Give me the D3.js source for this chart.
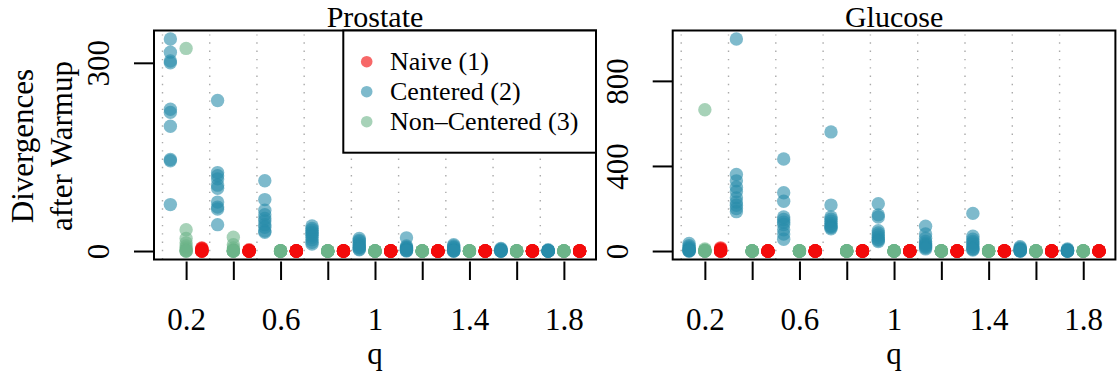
<!DOCTYPE html>
<html>
<head>
<meta charset="utf-8">
<script src="https://cdn.jsdelivr.net/npm/d3@7"></script>
<style>
  body { margin: 0; background: #fff; }
  svg { display: block; font-family: "Liberation Serif", "DejaVu Serif", "Times New Roman", serif; }
</style>
</head>
<body>
<svg id="chart" width="1119" height="377"></svg>
<script>
const FONT = '"Liberation Serif", "DejaVu Serif", "Times New Roman", serif'

// q values (one group of points per q)
const Q_VALUES = [0.2, 0.4, 0.6, 0.8, 1, 1.2, 1.4, 1.6, 1.8]
const X_TICK_LABELS = ['0.2', '', '0.6', '', '1', '', '1.4', '', '1.8']
const GRID_Q = [0.1, 0.3, 0.5, 0.7, 0.9, 1.1, 1.3, 1.5, 1.7]

const METHODS = ['Naive (1)', 'Centered (2)', 'Non\u2013Centered (3)']
const METHOD_COLORS = ['rgba(242,12,12,0.62)', 'rgba(40,140,170,0.6)', 'rgba(108,180,136,0.6)']

const PROSTATE_TICKS = [0, 300]
const GLUCOSE_TICKS = [0, 400, 800]

// divergences after warmup, 10 runs per q value
const prostateNaive = [
  [5, 4, 3, 2, 1, 0, 0, 0, 0, 0],
  [2, 0, 0, 0, 0, 0, 0, 0, 0, 0],
  [0, 0, 0, 0, 0, 0, 0, 0, 0, 0],
  [0, 0, 0, 0, 0, 0, 0, 0, 0, 0],
  [0, 0, 0, 0, 0, 0, 0, 0, 0, 0],
  [0, 0, 0, 0, 0, 0, 0, 0, 0, 0],
  [0, 0, 0, 0, 0, 0, 0, 0, 0, 0],
  [0, 0, 0, 0, 0, 0, 0, 0, 0, 0],
  [0, 0, 0, 0, 0, 0, 0, 0, 0, 0]
]
const prostateCentered = [
  [338, 317, 303, 300, 226, 221, 199, 146, 144, 74],
  [240, 125, 120, 115, 105, 100, 78, 70, 67, 42],
  [112, 82, 65, 58, 52, 48, 42, 38, 32, 30],
  [40, 36, 33, 30, 28, 25, 22, 18, 14, 11],
  [20, 17, 15, 12, 10, 8, 6, 5, 3, 2],
  [21, 8, 6, 5, 4, 3, 2, 1, 1, 0],
  [10, 8, 6, 5, 3, 2, 1, 0, 0, 0],
  [4, 3, 2, 1, 1, 0, 0, 0, 0, 0],
  [2, 1, 0, 0, 0, 0, 0, 0, 0, 0]
]
const prostateNonCentered = [
  [323, 34, 20, 13, 8, 5, 2, 0, 0, 0],
  [22, 10, 5, 2, 0, 0, 0, 0, 0, 0],
  [0, 0, 0, 0, 0, 0, 0, 0, 0, 0],
  [0, 0, 0, 0, 0, 0, 0, 0, 0, 0],
  [0, 0, 0, 0, 0, 0, 0, 0, 0, 0],
  [0, 0, 0, 0, 0, 0, 0, 0, 0, 0],
  [0, 0, 0, 0, 0, 0, 0, 0, 0, 0],
  [0, 0, 0, 0, 0, 0, 0, 0, 0, 0],
  [0, 0, 0, 0, 0, 0, 0, 0, 0, 0]
]

const glucoseNaive = [
  [15, 10, 8, 5, 3, 0, 0, 0, 0, 0],
  [0, 0, 0, 0, 0, 0, 0, 0, 0, 0],
  [0, 0, 0, 0, 0, 0, 0, 0, 0, 0],
  [0, 0, 0, 0, 0, 0, 0, 0, 0, 0],
  [0, 0, 0, 0, 0, 0, 0, 0, 0, 0],
  [0, 0, 0, 0, 0, 0, 0, 0, 0, 0],
  [0, 0, 0, 0, 0, 0, 0, 0, 0, 0],
  [0, 0, 0, 0, 0, 0, 0, 0, 0, 0],
  [0, 0, 0, 0, 0, 0, 0, 0, 0, 0]
]
const glucoseCentered = [
  [35, 25, 18, 12, 8, 5, 3, 2, 0, 0],
  [997, 360, 330, 300, 280, 250, 230, 215, 200, 185],
  [433, 274, 234, 160, 148, 135, 125, 100, 80, 55],
  [560, 216, 160, 150, 140, 130, 120, 115, 110, 105],
  [222, 170, 160, 95, 85, 75, 65, 55, 50, 45],
  [117, 80, 60, 45, 35, 30, 25, 20, 15, 10],
  [177, 70, 55, 45, 38, 30, 20, 12, 8, 5],
  [20, 15, 10, 8, 5, 3, 2, 0, 0, 0],
  [10, 6, 4, 2, 1, 0, 0, 0, 0, 0]
]
const glucoseNonCentered = [
  [664, 10, 5, 0, 0, 0, 0, 0, 0, 0],
  [0, 0, 0, 0, 0, 0, 0, 0, 0, 0],
  [0, 0, 0, 0, 0, 0, 0, 0, 0, 0],
  [0, 0, 0, 0, 0, 0, 0, 0, 0, 0],
  [0, 0, 0, 0, 0, 0, 0, 0, 0, 0],
  [0, 0, 0, 0, 0, 0, 0, 0, 0, 0],
  [0, 0, 0, 0, 0, 0, 0, 0, 0, 0],
  [0, 0, 0, 0, 0, 0, 0, 0, 0, 0],
  [0, 0, 0, 0, 0, 0, 0, 0, 0, 0]
]

// points of each method sit a bit left/right of their q
const METHOD_SHIFT = [1 / 15, -1 / 15, 0]

const TOP = 30.5
const BOTTOM = 259.5
const panels = [
  { title: 'Prostate', left: 154, right: 596, ticks: PROSTATE_TICKS,
    series: [prostateNaive, prostateCentered, prostateNonCentered], legend: true, ylab: true },
  { title: 'Glucose', left: 672.7, right: 1115.4, ticks: GLUCOSE_TICKS,
    series: [glucoseNaive, glucoseCentered, glucoseNonCentered], legend: false, ylab: false }
]

let svg = d3.select('#chart')

// R style range: data extent widened by 4% each side
let padExtent = ext => {
  let d = (ext[1] - ext[0]) * 0.04
  return [ext[0] - d, ext[1] + d]
}

let drawPanel = p => {
  let points = []
  p.series.forEach((rows, m) => {
    rows.forEach((runs, i) => {
      runs.forEach(v => points.push({ x: Q_VALUES[i] + METHOD_SHIFT[m], y: v, m: m }))
    })
  })

  let x = d3.scaleLinear().domain(padExtent(d3.extent(points, d => d.x))).range([p.left, p.right])
  let y = d3.scaleLinear().domain(padExtent([0, d3.max(points, d => d.y)])).range([BOTTOM, TOP])

  let g = svg.append('g')

  // dotted separators between q groups
  g.selectAll('line.grid')
    .data(GRID_Q)
    .enter()
    .append('line')
    .attr('class', 'grid')
    .attr('x1', d => x(d)).attr('x2', d => x(d))
    .attr('y1', BOTTOM).attr('y2', TOP + 4)
    .attr('stroke', '#aaa')
    .attr('stroke-width', 1.4)
    .attr('stroke-dasharray', '1.4 6.9')

  // points
  g.selectAll('circle.pt')
    .data(points)
    .enter()
    .append('circle')
    .attr('class', 'pt')
    .attr('cx', d => x(d.x))
    .attr('cy', d => y(d.y))
    .attr('r', 6.7)
    .attr('fill', d => METHOD_COLORS[d.m])

  // x axis
  let xAxis = g.append('g')
    .attr('transform', `translate(0, ${BOTTOM + 2})`)
    .call(d3.axisBottom(x).tickValues(Q_VALUES).tickSize(18.5).tickPadding(28)
      .tickFormat((d, i) => X_TICK_LABELS[i]))
  xAxis.select('.domain').remove()
  xAxis.selectAll('line').attr('stroke', '#000').attr('stroke-width', 2)
  xAxis.selectAll('text').attr('font-size', 31).attr('fill', '#000')
    .attr('font-family', FONT)

  // y axis
  let yAxis = g.append('g')
    .attr('transform', `translate(${p.left}, 0)`)
    .call(d3.axisLeft(y).tickValues(p.ticks).tickSize(20))
  yAxis.select('.domain').remove()
  yAxis.selectAll('line').attr('stroke', '#000').attr('stroke-width', 2)
  yAxis.selectAll('text')
    .attr('x', null).attr('dy', null)
    .attr('text-anchor', 'middle')
    .attr('transform', 'translate(-45, 0) rotate(-90)')
    .attr('font-size', 31).attr('fill', '#000')
    .attr('font-family', FONT)

  // frame
  g.append('rect')
    .attr('x', p.left).attr('y', TOP)
    .attr('width', p.right - p.left).attr('height', BOTTOM - TOP)
    .attr('fill', 'none').attr('stroke', '#000').attr('stroke-width', 2)

  // title + x label
  let cx = (p.left + p.right) / 2
  g.append('text').attr('x', cx).attr('y', 26.5).attr('text-anchor', 'middle')
    .attr('font-size', 30).text(p.title)
  g.append('text').attr('x', cx).attr('y', 364).attr('text-anchor', 'middle')
    .attr('font-size', 31).text('q')

  if (p.ylab) {
    g.append('text').attr('transform', 'translate(33, 146) rotate(-90)')
      .attr('text-anchor', 'middle').attr('font-size', 31).text('Divergences')
    g.append('text').attr('transform', 'translate(71.5, 146) rotate(-90)')
      .attr('text-anchor', 'middle').attr('font-size', 31).text('after Warmup')
  }

  if (p.legend) {
    let lg = g.append('g')
    lg.append('rect')
      .attr('x', 343.3).attr('y', TOP)
      .attr('width', p.right - 343.3).attr('height', 152.7 - TOP)
      .attr('fill', '#fff').attr('stroke', '#000').attr('stroke-width', 2)
    let items = lg.selectAll('g.item')
      .data(METHODS)
      .enter()
      .append('g')
      .attr('class', 'item')
      .attr('transform', (d, i) => `translate(366.7, ${61.7 + i * 30})`)
    items.append('circle').attr('r', 5.8).attr('fill', (d, i) => METHOD_COLORS[i])
    items.append('text').attr('x', 23.3).attr('y', 8.5).attr('font-size', 26).text(d => d)
  }
}

panels.forEach(drawPanel)
</script>
</body>
</html>
